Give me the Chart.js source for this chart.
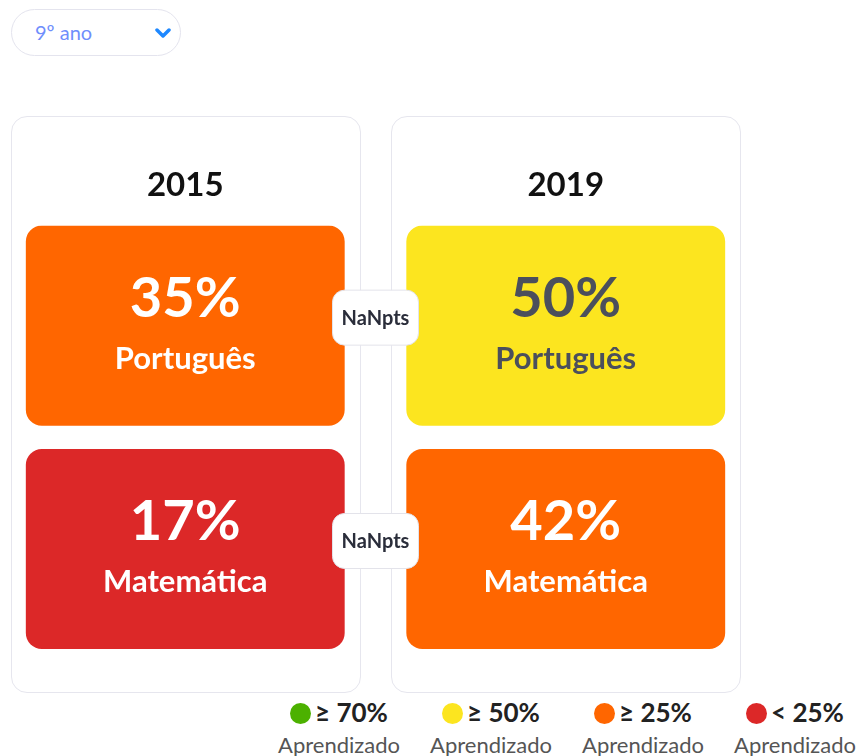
<!DOCTYPE html>
<html>
<head>
<meta charset="utf-8">
<script src="https://cdn.jsdelivr.net/npm/chart.js@4"></script>
<style>
  body { margin: 0; background: #fff; font-family: Lato, sans-serif; width: 859px; height: 756px; position: relative; overflow: hidden; }
  .select { position: absolute; left: 11px; top: 9px; width: 168px; height: 45px; border: 1.5px solid #e4e4ee; border-radius: 24px; box-sizing: content-box; }
  .select span { position: absolute; left: 23px; top: 10px; font-size: 20px; color: #6f8efc; }
  .select svg { position: absolute; left: 143px; top: 18px; }
  .card { position: absolute; top: 116px; width: 350px; height: 577px; border: 1.5px solid #e6e6ee; border-radius: 16px; box-sizing: border-box; }
  #wrap { position: absolute; left: -5px; top: 116px; width: 761px; height: 577px; }
  .leg { position: absolute; top: 697px; width: 126px; text-align: center; }
  .leg .top { font-size: 26px; font-weight: bold; color: #222; line-height: 30px; white-space: nowrap; }
  .leg .dot { display: inline-block; width: 21px; height: 21px; border-radius: 50%; vertical-align: -2px; margin-right: 4px; }
  .leg .sub { font-size: 22px; color: #555; line-height: 26px; margin-top: 5px; }
</style>
</head>
<body>
<div class="select"><span>9º ano</span>
  <svg width="16" height="12" viewBox="0 0 16 12"><path d="M2 2 L8 8 L14 2" fill="none" stroke="#1e88ff" stroke-width="3.5" stroke-linecap="round" stroke-linejoin="round"/></svg>
</div>
<div class="card" style="left:11px"></div>
<div class="card" style="left:391px"></div>
<div id="wrap"><canvas id="tiles" width="761" height="577"></canvas></div>
<div id="legend"></div>
<script>
const years = ["2015", "2019"];
const subjects = ["Português", "Matemática"];
const portugues = [35, 50];
const matematica = [17, 42];
const diffLabels = ["NaNpts", "NaNpts"];

const legendLabels = ["≥ 70%", "≥ 50%", "≥ 25%", "< 25%"];
const legendColors = ["#4cb100", "#fce51f", "#ff6600", "#dc2828"];
const thresholds = [70, 50, 25, 0];

const seriesValues = [portugues, matematica];

function colorFor(v) {
  for (let i = 0; i < thresholds.length; i++) {
    if (v >= thresholds[i]) return legendColors[i];
  }
  return legendColors[legendColors.length - 1];
}

// each subject is a row of tiles; the tile fills its row with a small gap
const gap = 0.055;
function rowRange(r) { return [r + (r > 0 ? gap : 0), r + 1 - (r < subjects.length - 1 ? gap : 0)]; }

const tileText = {
  id: "tileText",
  afterDatasetsDraw(chart) {
    const c = chart.ctx;
    c.save();
    c.textAlign = "center";
    c.textBaseline = "middle";
    chart.data.datasets.forEach((ds, di) => {
      const els = chart.getDatasetMeta(di).data;
      els.forEach((el, i) => {
        const v = seriesValues[di][i];
        const top = Math.min(el.y, el.base), bot = Math.max(el.y, el.base);
        const cy = (top + bot) / 2;
        const fg = v >= 50 && v < 70 ? "#4b4f5c" : "#ffffff";
        c.fillStyle = fg;
        c.font = "bold 56px Lato";
        c.fillText(v + "%", el.x, cy - 27);
        c.font = "bold 31px Lato";
        c.fillText(subjects[di], el.x, cy + 33);
      });
      // badge between the two years
      const a = els[0], b = els[1];
      const mx = ((a.x + a.width / 2) + (b.x - b.width / 2)) / 2;
      const my = (Math.min(a.y, a.base) + Math.max(a.y, a.base)) / 2 - 8;
      const w = 86, h = 55;
      c.beginPath();
      c.roundRect(mx - w / 2, my - h / 2, w, h, 12);
      c.fillStyle = "#ffffff";
      c.fill();
      c.strokeStyle = "#e3e3ea";
      c.lineWidth = 1;
      c.stroke();
      c.fillStyle = "#2a2d3a";
      c.font = "bold 20px Lato";
      c.fillText(diffLabels[di], mx, my + 1);
    });
    c.restore();
  }
};

new Chart(document.getElementById("tiles"), {
  type: "bar",
  data: {
    labels: years,
    datasets: subjects.map((s, r) => ({
      label: s,
      data: years.map(() => rowRange(r)),
      backgroundColor: years.map((y, i) => colorFor(seriesValues[r][i])),
      borderRadius: 16,
      borderSkipped: false,
      barPercentage: 0.838,
      categoryPercentage: 1,
    })),
  },
  options: {
    responsive: false,
    animation: false,
    events: [],
    layout: { padding: { top: 30, bottom: 44, left: 0, right: 0 } },
    plugins: { legend: { display: false }, tooltip: { enabled: false } },
    scales: {
      x: {
        position: "top",
        stacked: true,
        grid: { display: false, drawTicks: false },
        border: { display: false },
        ticks: { color: "#111", padding: 20, font: { family: "Lato", size: 33, weight: "bold" } },
      },
      y: { display: false, reverse: true, min: 0, max: subjects.length, stacked: false },
    },
  },
  plugins: [tileText],
});

const legend = document.getElementById("legend");
legendLabels.forEach((t, i) => {
  const d = document.createElement("div");
  d.className = "leg";
  d.style.left = (276 + 152 * i) + "px";
  d.innerHTML = '<div class="top"><span class="dot" style="background:' + legendColors[i] + '"></span>' + t + '</div><div class="sub">Aprendizado</div>';
  legend.appendChild(d);
});
</script>
</body>
</html>
